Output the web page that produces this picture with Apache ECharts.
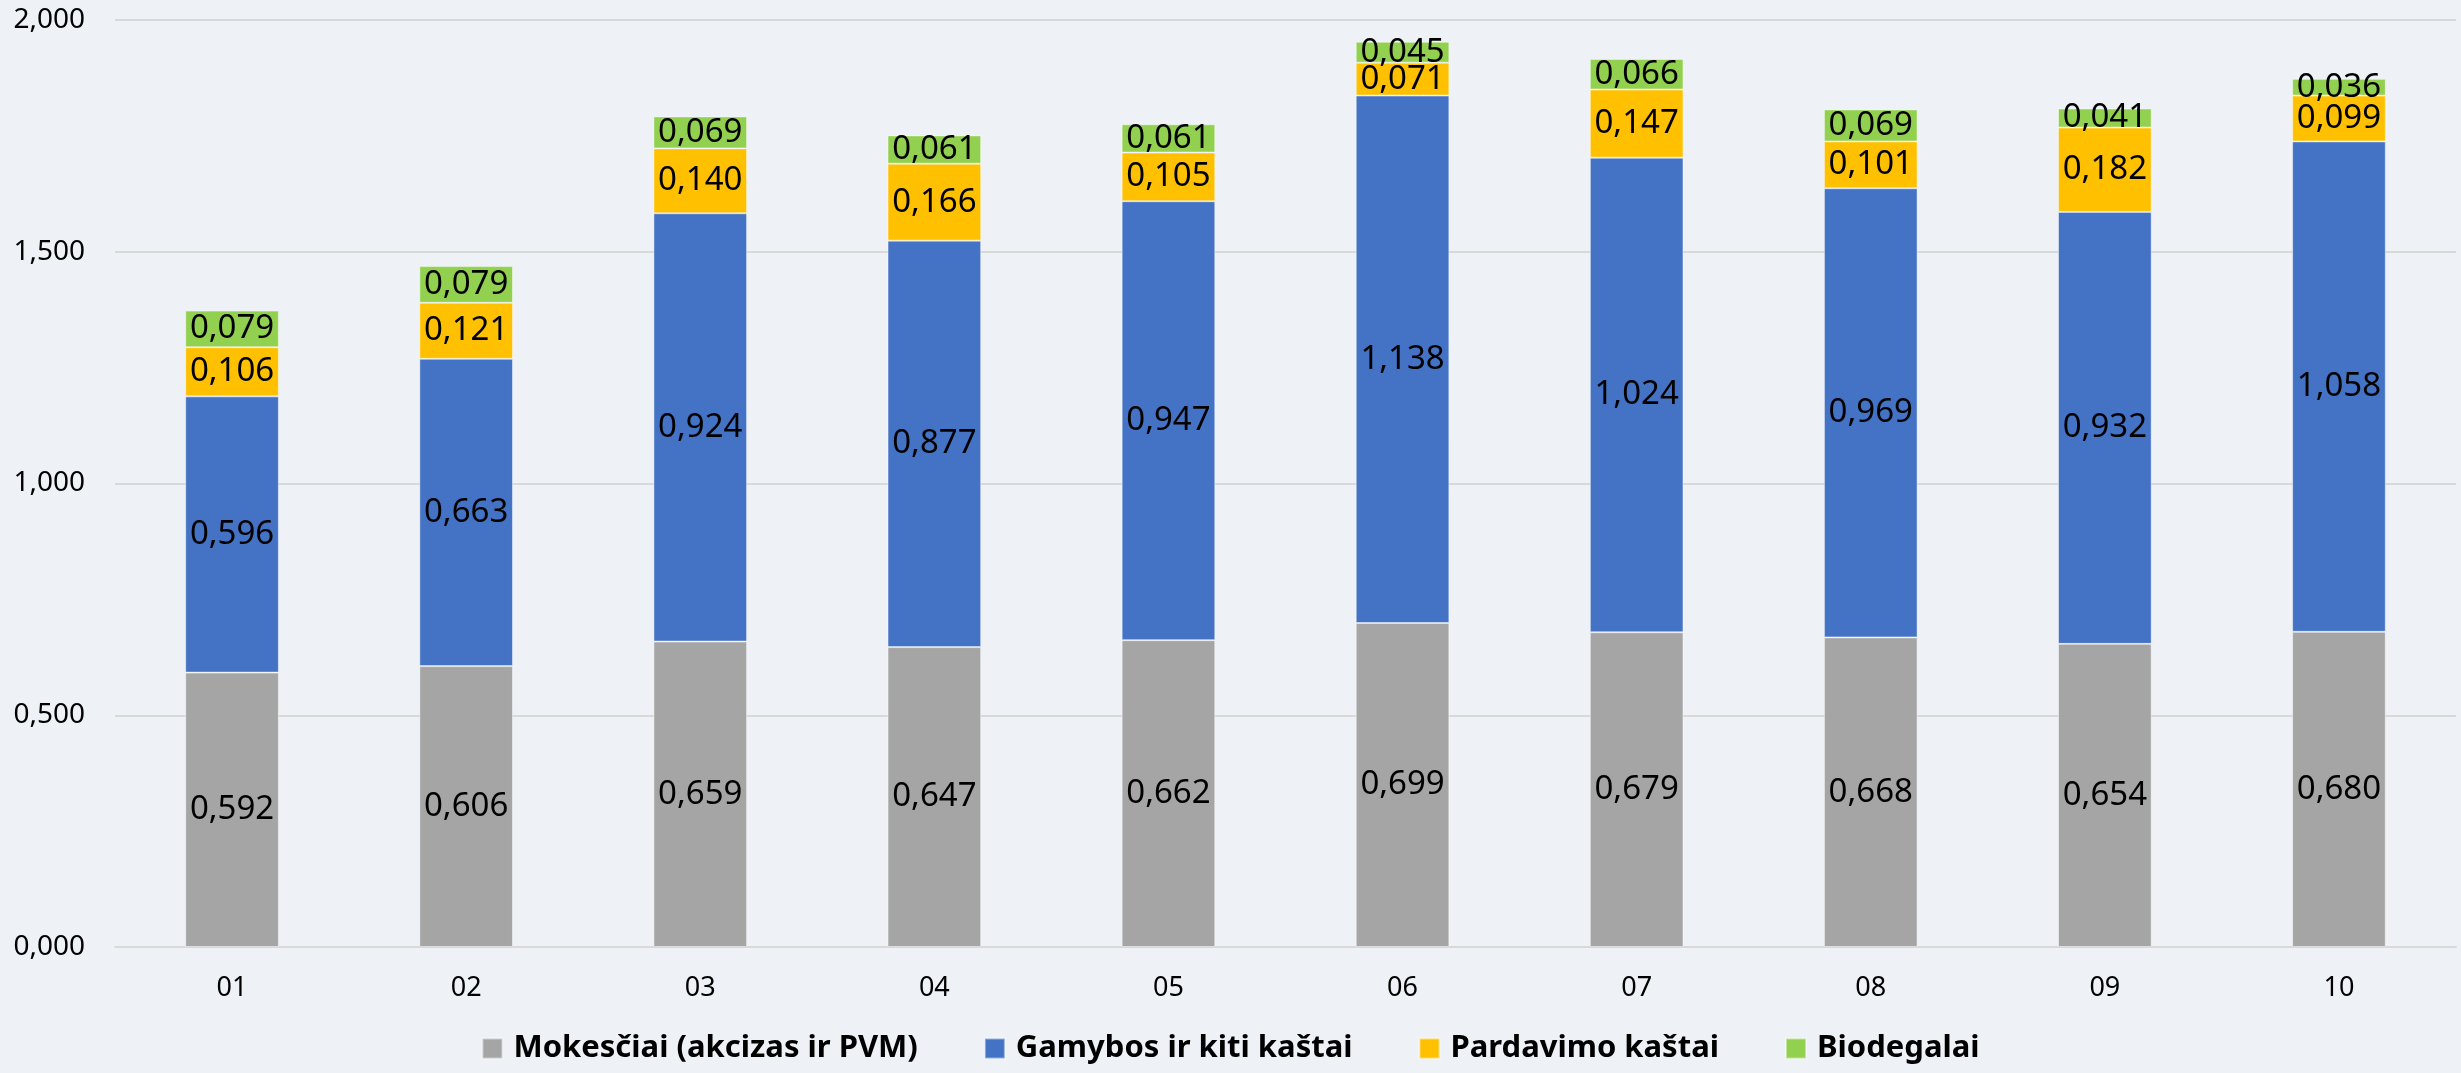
<!DOCTYPE html>
<html>
<head>
<meta charset="utf-8">
<script src="https://cdn.jsdelivr.net/npm/echarts@6/dist/echarts.min.js"></script>
<style>
html,body{margin:0;padding:0;background:#EEF2F6;}
#c{width:2461px;height:1073px;}
</style>
</head>
<body>
<div id="c"></div>
<script>
const categories = ['01','02','03','04','05','06','07','08','09','10'];
const seriesNames = ['Mokesčiai (akcizas ir PVM)','Gamybos ir kiti kaštai','Pardavimo kaštai','Biodegalai'];
const mokesciai = [0.592,0.606,0.659,0.647,0.662,0.699,0.679,0.668,0.654,0.680];
const gamybos = [0.596,0.663,0.924,0.877,0.947,1.138,1.024,0.969,0.932,1.058];
const pardavimo = [0.106,0.121,0.140,0.166,0.105,0.071,0.147,0.101,0.182,0.099];
const biodegalai = [0.079,0.079,0.069,0.061,0.061,0.045,0.066,0.069,0.041,0.036];
const colors = ['#A5A5A5','#4472C4','#FFC000','#92D050'];

const fmt = v => Number(v).toFixed(3).replace('.', ',');
const FONT = '"Noto Sans", "Open Sans", sans-serif';

const dataSets = [mokesciai, gamybos, pardavimo, biodegalai];
const series = dataSets.map((d, i) => ({
  name: seriesNames[i],
  type: 'bar',
  stack: 'total',
  data: d,
  barWidth: '40%',
  itemStyle: { color: colors[i], borderColor: 'rgba(255,255,255,0.45)', borderWidth: 1 },
  label: {
    show: true,
    position: 'inside',
    formatter: p => fmt(p.value),
    color: '#000',
    fontSize: 33,
    fontFamily: FONT
  }
}));

const chart = echarts.init(document.getElementById('c'), null, {renderer: 'canvas'});
chart.setOption({
  backgroundColor: '#EEF2F6',
  animation: false,
  color: colors,
  grid: { left: 115, right: 5, top: 20, bottom: 126, containLabel: false },
  legend: {
    bottom: 4,
    left: 'center',
    itemWidth: 20,
    itemHeight: 20,
    itemGap: 66,
    icon: 'rect',
    textStyle: { fontSize: 31, fontWeight: 'bold', color: '#000', fontFamily: FONT, padding: [0,0,0,6] },
    data: seriesNames
  },
  xAxis: {
    type: 'category',
    data: categories,
    axisTick: { show: false },
    axisLine: { lineStyle: { color: '#D9D9D9', width: 2 } },
    axisLabel: { color: '#000', fontSize: 27, fontFamily: FONT, margin: 28 }
  },
  yAxis: {
    type: 'value',
    min: 0,
    max: 2,
    interval: 0.5,
    axisLine: { show: false },
    axisTick: { show: false },
    splitLine: { lineStyle: { color: '#D9D9D9', width: 2 } },
    axisLabel: { color: '#000', fontSize: 28, fontFamily: FONT, margin: 30, formatter: v => fmt(v) }
  },
  series: series
});
</script>
</body>
</html>
